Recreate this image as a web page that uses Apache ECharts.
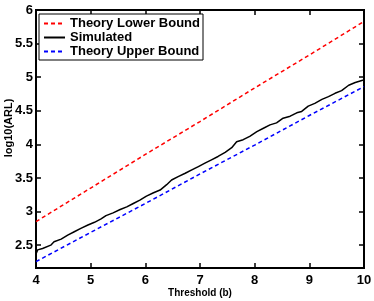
<!DOCTYPE html>
<html><head><meta charset="utf-8">
<script src="https://cdn.jsdelivr.net/npm/echarts@6/dist/echarts.min.js"></script>
<style>html,body{margin:0;padding:0;background:#fff}#c{width:374px;height:301px}</style>
</head><body><div id="c"></div>
<script>
const xTicks = [4,5,6,7,8,9,10];
const yTicks = [2.5,3,3.5,4,4.5,5,5.5,6];
const boundX = [4,5,6,7,8,9,10];
const lowerBound = [2.85,3.35,3.85,4.34,4.84,5.33,5.83];
const upperBound = [2.255,2.69,3.12,3.56,3.99,4.43,4.86];
const simX = [4.00,4.03,4.12,4.27,4.33,4.46,4.58,4.70,4.82,4.95,5.07,5.19,5.28,5.41,5.54,5.66,5.78,5.90,6.02,6.15,6.27,6.39,6.48,6.60,6.73,6.85,6.97,7.09,7.21,7.33,7.46,7.58,7.67,7.79,7.91,8.04,8.16,8.28,8.40,8.52,8.65,8.77,8.86,8.98,9.10,9.23,9.35,9.47,9.59,9.72,9.84,9.96,10.00];
const simulated = [2.37,2.43,2.45,2.50,2.55,2.59,2.65,2.70,2.75,2.80,2.84,2.89,2.94,2.98,3.03,3.07,3.12,3.17,3.23,3.28,3.32,3.40,3.47,3.52,3.57,3.62,3.67,3.72,3.77,3.82,3.88,3.95,4.04,4.07,4.12,4.19,4.24,4.29,4.32,4.39,4.42,4.47,4.49,4.57,4.61,4.67,4.71,4.76,4.80,4.88,4.92,4.95,4.96];

const FONT = "'Liberation Sans', Arial, Helvetica, sans-serif";
const zip = (a,b) => a.map((v,i)=>[v,b[i]]);
const chart = echarts.init(document.getElementById('c'), null, {renderer:'canvas'});
const axisCommon = {
  axisLine:{show:true,onZero:false,lineStyle:{color:'#000',width:2}},
  splitLine:{show:false}
};
chart.setOption({
  animation:false,
  backgroundColor:'#fff',
  textStyle:{fontFamily:FONT},
  grid:{left:36,right:10,top:10,bottom:33,containLabel:false,outerBoundsMode:'none',
    show:true,borderColor:'#000',borderWidth:2},
  legend:{
    orient:'vertical',left:39,top:14,
    borderColor:'#000',borderWidth:1,padding:[3,3,2,4],
    itemWidth:21,itemHeight:14,itemGap:1,
    backgroundColor:'#fff',
    itemStyle:{opacity:0},
    textStyle:{fontFamily:FONT,fontSize:13,fontWeight:'bold',color:'#000'},
    data:['Theory Lower Bound','Simulated','Theory Upper Bound']
  },
  xAxis:[
    Object.assign({type:'value',min:4,max:10,interval:1,position:'bottom',
      name:'Threshold (b)',nameLocation:'middle',nameGap:20,nameMoveOverlap:false,
      nameTextStyle:{fontFamily:FONT,fontSize:10,fontWeight:'bold',color:'#000'},
      axisTick:{show:true,inside:true,length:5,lineStyle:{color:'#000',width:1.5}},
      axisLabel:{fontFamily:FONT,fontSize:13,fontWeight:'bold',color:'#000',margin:6,
        customValues:xTicks}
    },axisCommon),
    Object.assign({type:'value',min:4,max:10,interval:1,position:'top',
      axisTick:{show:true,inside:true,length:5,lineStyle:{color:'#000',width:1.5}},
      axisLabel:{show:false}
    },axisCommon)
  ],
  yAxis:[
    Object.assign({type:'value',min:2.16,max:6,position:'left',
      name:'log10(ARL)',nameLocation:'middle',nameGap:22,nameRotate:90,nameMoveOverlap:false,
      nameTextStyle:{fontFamily:FONT,fontSize:11,fontWeight:'bold',color:'#000',padding:[0,0,0,22]},
      axisTick:{show:true,inside:true,length:5,customValues:yTicks,lineStyle:{color:'#000',width:1.5}},
      axisLabel:{fontFamily:FONT,fontSize:13,fontWeight:'bold',color:'#000',margin:3,
        customValues:yTicks,formatter:v=>String(v)}
    },axisCommon),
    Object.assign({type:'value',min:2.16,max:6,position:'right',
      axisTick:{show:true,inside:true,length:5,customValues:yTicks,lineStyle:{color:'#000',width:1.5}},
      axisLabel:{show:false,customValues:yTicks}
    },axisCommon)
  ],
  series:[
    {name:'Theory Lower Bound',type:'line',data:zip(boundX,lowerBound),symbol:'none',
      lineStyle:{color:'#ff0000',width:1.5,type:[4,3]},itemStyle:{color:'#ff0000'}},
    {name:'Simulated',type:'line',data:zip(simX,simulated),symbol:'none',
      lineStyle:{color:'#000',width:1.5},itemStyle:{color:'#000'}},
    {name:'Theory Upper Bound',type:'line',data:zip(boundX,upperBound),symbol:'none',
      lineStyle:{color:'#0000ff',width:1.5,type:[4,3]},itemStyle:{color:'#0000ff'}}
  ]
});
</script></body></html>
